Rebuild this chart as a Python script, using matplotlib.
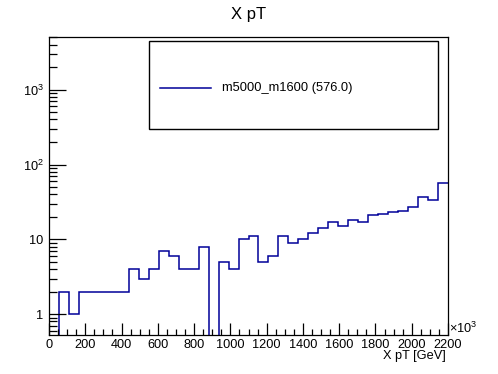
import numpy as np
import matplotlib
matplotlib.use("Agg")
import matplotlib.pyplot as plt
from matplotlib.ticker import FixedLocator, LogLocator, FuncFormatter, MultipleLocator, NullFormatter
from matplotlib.patches import Rectangle
from matplotlib.lines import Line2D

plt.rcParams['font.family'] = ['Liberation Sans', 'DejaVu Sans']
plt.rcParams['mathtext.fontset'] = 'custom'
plt.rcParams['mathtext.rm'] = 'Liberation Sans'
plt.rcParams['mathtext.it'] = 'Liberation Sans:italic'

# ---- data ----
title = "X pT"
xlabel = "X pT [GeV]"
legend_label = "m5000_m1600 (576.0)"
bin_edges_k = np.linspace(0.0, 2.2, 41)  # in units of 10^3 GeV
counts = [0, 2, 1, 2, 2, 2, 2, 2, 4, 3,
          4, 7, 6, 4, 4, 8, 0, 5, 4, 10,
          11, 5, 6, 11, 9, 10, 12, 14, 17, 15,
          18, 17, 21, 22, 23, 24, 27, 37, 34, 56]
x_ticks = [0, 0.2, 0.4, 0.6, 0.8, 1.0, 1.2, 1.4, 1.6, 1.8, 2.0, 2.2]
x_ticklabels = ["0", "200", "400", "600", "800", "1000", "1200", "1400",
                "1600", "1800", "2000", "2200"]
line_color = "#000099"

W, H = 498, 374
fig = plt.figure(figsize=(W / 100, H / 100), dpi=100)
ax = fig.add_axes([49 / W, 1 - 335 / H, (448 - 49) / W, (335 - 37) / H])

vals = np.array(counts, dtype=float)
draw_vals = np.where(vals > 0, vals, 1e-3)
ax.stairs(draw_vals, bin_edges_k, baseline=None, color=line_color, lw=1.1)

ax.set_yscale('log')
ax.set_xlim(0, 2.2)
ax.set_ylim(0.528, 5050)

def yfmt(v, pos):
    e = int(round(np.log10(v)))
    if e == 0:
        return "1"
    if e == 1:
        return "10"
    return r"$10^{%d}$" % e

ax.yaxis.set_major_locator(LogLocator(base=10, numticks=10))
ax.yaxis.set_major_formatter(FuncFormatter(yfmt))
ax.yaxis.set_minor_locator(LogLocator(base=10, subs=np.arange(2, 10), numticks=20))
ax.yaxis.set_minor_formatter(NullFormatter())

ax.xaxis.set_major_locator(FixedLocator(x_ticks))
ax.set_xticklabels(x_ticklabels)
ax.xaxis.set_minor_locator(MultipleLocator(0.05))

ax.tick_params(axis='both', which='both', direction='in', top=False, right=False,
               labelsize=9.2, colors='black', width=0.9)
ax.tick_params(axis='y', which='major', length=12, pad=4)
ax.tick_params(axis='y', which='minor', length=6)
ax.tick_params(axis='x', which='major', length=9, pad=3)
ax.tick_params(axis='x', which='minor', length=4.5)
for s in ax.spines.values():
    s.set_linewidth(0.9)

fig.text(0.5, 1 - 15 / H, title, ha='center', va='center', fontsize=12)
fig.text(446 / W, 1 - 356 / H, xlabel, ha='right', va='center', fontsize=9.2)
fig.text(449 / W, 1 - 328 / H, r"$\times10^{3}$", ha='left', va='center', fontsize=9.2)

# legend box
fig.add_artist(Rectangle((149 / W, 1 - 129.5 / H), (438 - 149) / W, (129.5 - 41.5) / H,
                         transform=fig.transFigure, fill=False, edgecolor='black', lw=1.0))
fig.add_artist(Line2D([160 / W, 211 / W], [1 - 88 / H, 1 - 88 / H], transform=fig.transFigure,
                      color=line_color, lw=1.1))
fig.text(221.5 / W, 1 - 88 / H, legend_label, ha='left', va='center', fontsize=9.3)

fig.savefig("out.png", dpi=100)
